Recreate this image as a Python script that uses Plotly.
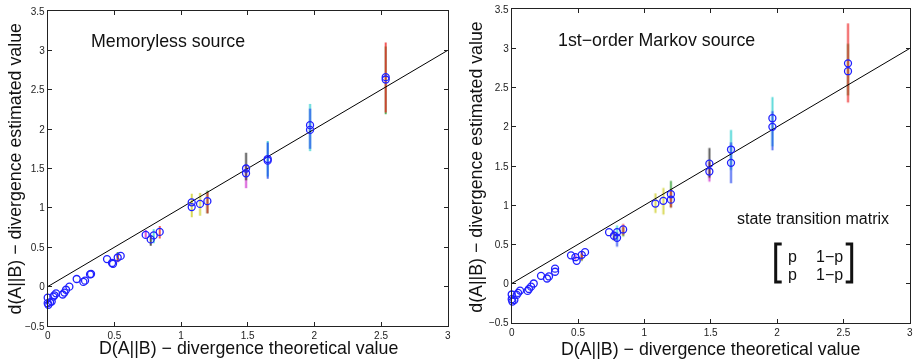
import plotly.graph_objects as go

# ---------------- data: left panel (memoryless source) ----------------
L_x = [0, 0, 0.005, 0.0175, 0.03, 0.0425, 0.05, 0.0625,
       0.1125, 0.125, 0.1375, 0.1625,
       0.2175, 0.2675, 0.28, 0.3175, 0.325,
       0.445, 0.4825, 0.49, 0.525, 0.5475,
       0.735, 0.7725, 0.795, 0.84,
       1.08, 1.08, 1.1425, 1.1975,
       1.4875, 1.4875, 1.65, 1.65,
       1.9675, 1.9675, 2.535, 2.535]
L_y = [-0.14, -0.21, -0.23, -0.2, -0.19, -0.127, -0.11, -0.085,
       -0.1, -0.076, -0.04, 0.0,
       0.097, 0.06, 0.076, 0.155, 0.16,
       0.35, 0.30, 0.29, 0.37, 0.39,
       0.657, 0.60, 0.65, 0.695,
       1.01, 1.07, 1.05, 1.085,
       1.44, 1.50, 1.60, 1.62,
       1.99, 2.05, 2.63, 2.66]
# error bars: x, low, high, colour
L_eb_x = [2.535, 2.535, 1.9675, 1.9675, 1.65, 1.65, 1.4875, 1.4875,
          1.1975, 1.1975, 1.1425, 1.08, 0.84, 0.795, 0.7725, 0.735, 0.525, 0.525]
L_eb_lo = [2.19, 2.21, 1.72, 1.75, 1.40, 1.37, 1.25, 1.35,
           0.93, 0.93, 0.90, 0.88, 0.61, 0.55, 0.52, 0.62, 0.33, 0.31]
L_eb_hi = [3.05, 3.10, 2.32, 2.26, 1.85, 1.83, 1.55, 1.70,
           1.22, 1.20, 1.19, 1.18, 0.77, 0.73, 0.66, 0.72, 0.44, 0.42]
L_eb_c = ["g", "r", "c", "b", "c", "b", "m", "k",
          "g", "r", "y", "y", "r", "c", "k", "m", "g", "r"]

# ---------------- data: right panel (1st-order Markov source) ----------------
R_x = [0, 0, 0.005, 0.02, 0.038, 0.048, 0.063,
       0.12, 0.13, 0.146, 0.166,
       0.221, 0.266, 0.281, 0.327, 0.327,
       0.447, 0.48, 0.49, 0.528, 0.553,
       0.734, 0.771, 0.794, 0.794, 0.84,
       1.083, 1.143, 1.2, 1.2,
       1.49, 1.49, 1.653, 1.653,
       1.965, 1.965, 2.535, 2.535]
R_y = [-0.14, -0.2, -0.23, -0.21, -0.145, -0.12, -0.09,
       -0.094, -0.07, -0.04, 0.0,
       0.098, 0.064, 0.09, 0.15, 0.19,
       0.36, 0.336, 0.29, 0.366, 0.40,
       0.655, 0.61, 0.583, 0.655, 0.69,
       1.02, 1.055, 1.07, 1.14,
       1.43, 1.53, 1.54, 1.71,
       2.00, 2.11, 2.71, 2.81]
R_eb_x = [2.535, 2.535, 1.965, 1.965, 1.653, 1.653, 1.49, 1.49,
          1.2, 1.2, 1.143, 1.083, 0.84, 0.84, 0.794, 0.794, 0.771, 0.528, 0.528, 0.48]
R_eb_lo = [2.31, 2.40, 1.75, 1.70, 1.45, 1.28, 1.35, 1.30,
           0.97, 0.97, 0.88, 0.90, 0.62, 0.60, 0.55, 0.47, 0.55, 0.30, 0.29, 0.30]
R_eb_hi = [3.32, 3.06, 2.38, 2.20, 1.96, 1.80, 1.73, 1.55,
           1.31, 1.20, 1.22, 1.15, 0.76, 0.72, 0.74, 0.65, 0.66, 0.41, 0.38, 0.37]
R_eb_c = ["r", "g", "c", "b", "c", "b", "k", "m",
          "g", "r", "y", "y", "r", "g", "c", "b", "k", "r", "g", "m"]

ref_x = [0, 3]
ref_y = [0, 3]

x_ticks = [0, 0.5, 1, 1.5, 2, 2.5, 3]
x_labels = ["0", "0.5", "1", "1.5", "2", "2.5", "3"]
y_ticks = [-0.5, 0, 0.5, 1, 1.5, 2, 2.5, 3, 3.5]
y_labels = ["−0.5", "0", "0.5", "1", "1.5", "2", "2.5", "3", "3.5"]

COLORS = {"r": "#ee2222", "g": "#2a9a2a", "b": "#2244ee", "c": "#22cccc",
          "m": "#cc22cc", "y": "#cccc22", "k": "#222222"}
MARK = "#2020ff"
FONT = "Liberation Sans, Arial, Helvetica, sans-serif"

W, H = 913, 360
ML, MR, MT, MB = 47, 3, 9, 34
PW, PH = W - ML - MR, H - MT - MB


def fx(px):  # window pixel -> paper fraction
    return (px - ML) / PW


def fy(py):
    return (H - MB - py) / PH


fig = go.Figure()


def add_panel(xs, ys, ebx, eblo, ebhi, ebc, xa, ya):
    for key in ["g", "c", "m", "y", "k", "b", "r"]:
        px, py = [], []
        for x, lo, hi, c in zip(ebx, eblo, ebhi, ebc):
            if c == key:
                px += [x, x, None]
                py += [lo, hi, None]
        if px:
            fig.add_trace(go.Scatter(x=px, y=py, mode="lines", xaxis=xa, yaxis=ya,
                                     line=dict(color=COLORS[key], width=2),
                                     opacity=0.75, showlegend=False, hoverinfo="skip"))
    fig.add_trace(go.Scatter(x=ref_x, y=ref_y, mode="lines", xaxis=xa, yaxis=ya,
                             line=dict(color="black", width=1), showlegend=False))
    fig.add_trace(go.Scatter(x=xs, y=ys, mode="markers", xaxis=xa, yaxis=ya,
                             cliponaxis=False,
                             marker=dict(symbol="circle-open", size=7, color=MARK,
                                         line=dict(width=1.3, color=MARK)),
                             showlegend=False))


add_panel(L_x, L_y, L_eb_x, L_eb_lo, L_eb_hi, L_eb_c, "x", "y")
add_panel(R_x, R_y, R_eb_x, R_eb_lo, R_eb_hi, R_eb_c, "x2", "y2")

axis_common = dict(showgrid=False, zeroline=False, ticks="inside", ticklen=4,
                   tickwidth=1, tickcolor="#222", mirror="ticks", showline=True,
                   linecolor="#222", linewidth=1, automargin=False,
                   tickfont=dict(family=FONT, size=10, color="#222"))

fig.update_layout(
    width=W, height=H, margin=dict(l=ML, r=MR, t=MT, b=MB),
    paper_bgcolor="white", plot_bgcolor="white",
    xaxis=dict(domain=[fx(47.7), fx(447.7)], range=[0, 3], tickvals=x_ticks,
               ticktext=x_labels, anchor="y", **axis_common),
    yaxis=dict(domain=[max(0, fy(326)), fy(11)], range=[-0.5, 3.5], tickvals=y_ticks,
               ticktext=y_labels, anchor="x", **axis_common),
    xaxis2=dict(domain=[fx(511.7), min(1, fx(909.7))], range=[0, 3], tickvals=x_ticks,
                ticktext=x_labels, anchor="y2", **axis_common),
    yaxis2=dict(domain=[fy(322.7), min(1, fy(9.3))], range=[-0.5, 3.5], tickvals=y_ticks,
                ticktext=y_labels, anchor="x2", **axis_common),
)

ann = []
TS = 17.8
title_font = dict(family=FONT, size=TS, color="#111")


def add_text(text, x, y, font, xanchor="center", angle=0):
    ann.append(dict(text=text, x=fx(x), y=fy(y), xref="paper", yref="paper",
                    showarrow=False, font=font, xanchor=xanchor, yanchor="middle",
                    textangle=angle))


add_text("D(A||B) − divergence theoretical value", 248, 348, title_font)
add_text("D(A||B) − divergence theoretical value", 710, 349, title_font)
add_text("d(A||B) − divergence estimated value", 14, 168.5, title_font, angle=-90)
add_text("d(A||B) − divergence estimated value", 476, 166.7, title_font, angle=-90)
add_text("Memoryless source", 89, 41, dict(family=FONT, size=TS, color="#111"), "left")
add_text("1st−order Markov source", 555.7, 40, dict(family=FONT, size=TS, color="#111"), "left")
add_text("state transition matrix", 813.2, 218, dict(family=FONT, size=16, color="#111"))
mfont = dict(family=FONT, size=16, color="#111")
for yy in [256, 274]:
    add_text("p", 786, yy, mfont, "left")
    add_text("1−p", 814, yy, mfont, "left")
fig.update_layout(annotations=ann)

# matrix brackets (decorative)
bl, br, s = fx(775.7), fx(851.7), 6 / PW
yt, yb = fy(244), fy(282)
fig.add_shape(type="path", xref="paper", yref="paper",
              path=f"M {bl+s} {yt} L {bl} {yt} L {bl} {yb} L {bl+s} {yb}",
              line=dict(color="#111", width=3))
fig.add_shape(type="path", xref="paper", yref="paper",
              path=f"M {br-s} {yt} L {br} {yt} L {br} {yb} L {br-s} {yb}",
              line=dict(color="#111", width=3))

fig.write_html("out.html", config={"displayModeBar": False},
               post_script="document.body.style.margin='0';"
                           "document.body.style.overflow='hidden';")
